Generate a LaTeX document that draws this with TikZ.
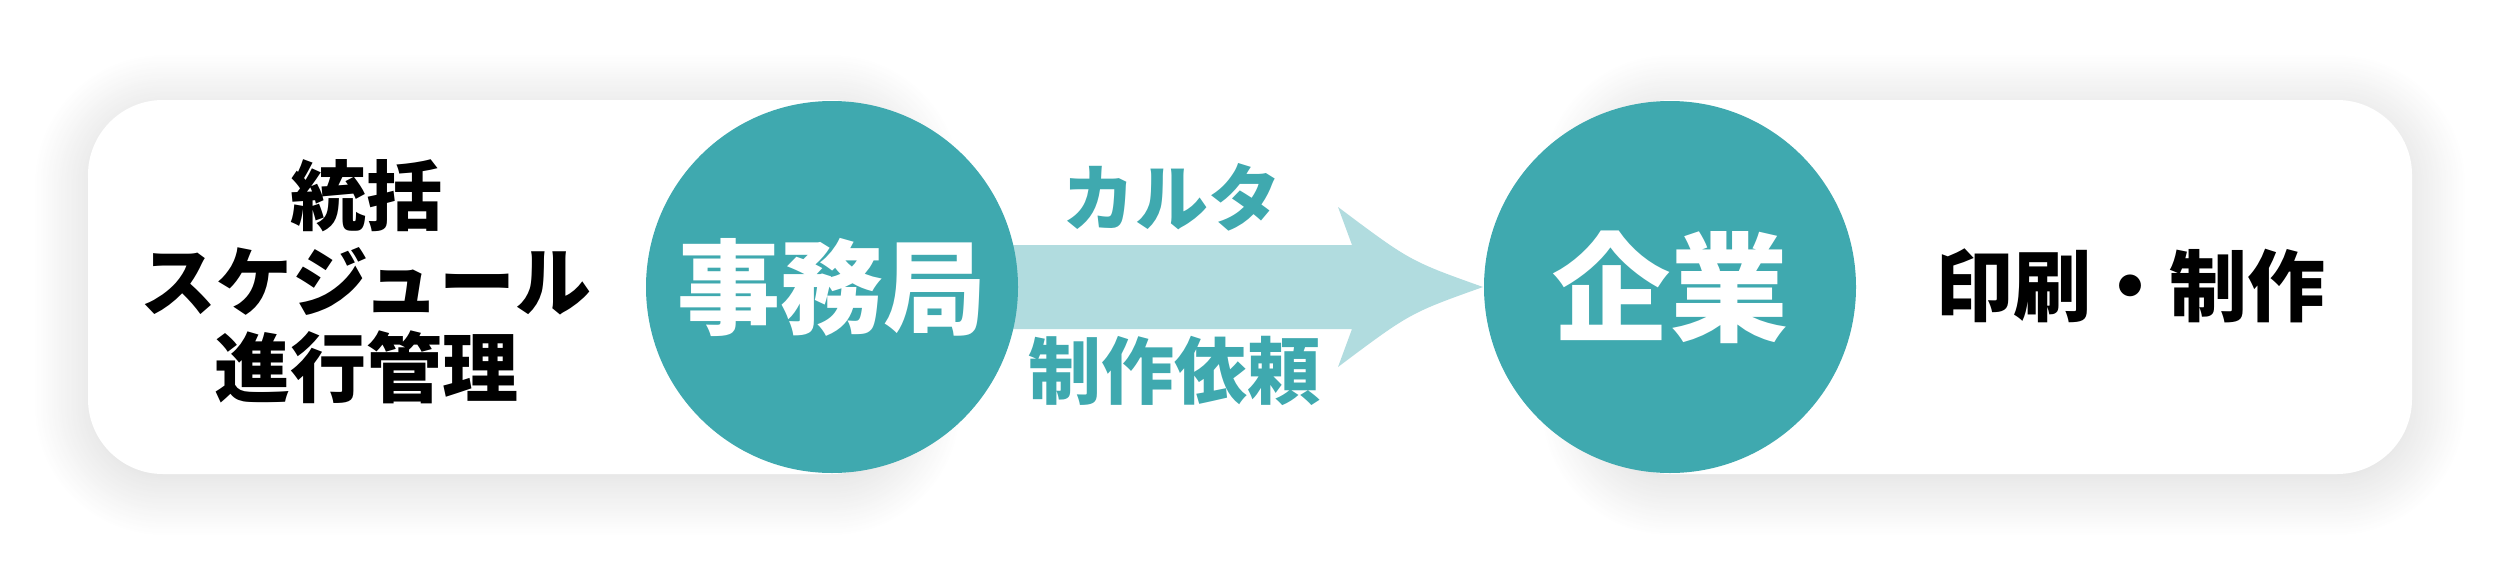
\documentclass[tikz,border=0pt]{standalone}
\usepackage{fontspec}
\newfontfamily\jpfont{Noto Sans CJK JP}
\usetikzlibrary{calc,shadows.blur}
\definecolor{hubteal}{HTML}{3FA9AF}
\definecolor{flowteal}{HTML}{B1DCDF}

\begin{document}
\begin{tikzpicture}[x=1pt, y=-1pt, node distance=838pt,
    panel/.style={fill=white, rounded corners=75pt, inner sep=0pt, minimum height=374pt,
      blur shadow={shadow xshift=0pt, shadow yshift=-8pt, shadow blur radius=55pt,
        shadow blur steps=30, shadow opacity=16}},
    hub/.style={circle, fill=hubteal, text=white, inner sep=0pt, minimum size=372pt},
    flow/.style={fill=flowteal},
    tag/.style={text=hubteal, font=\jpfont\bfseries\fontsize{73pt}{73pt}\selectfont}]
    \useasboundingbox (0,0) rectangle (2516,581);
    % white panels behind the two circles
    \node (lpanel) [panel, minimum width=819pt] at (497.5,287) {};
    \node (rpanel) [panel, minimum width=817pt] at (2003.5,287) {};
    % arrow from office to firm
    \coordinate (tip) at (1483,287);
    \fill[flow] (832,245) -- (1352,245) -- (1338,207) .. controls (1410,261) .. (tip)
      .. controls (1410,313) .. (1338,367) -- (1352,329) -- (832,329) -- cycle;
    \node (office) [hub, font=\jpfont\bfseries\fontsize{103pt}{103pt}\selectfont] at (832,287) {事務局};
    \node (firm) [hub, right of=office, font=\jpfont\bfseries\fontsize{118pt}{118pt}\selectfont] {企業};
    \node (tasks) [align=center, font=\jpfont\bfseries\fontsize{76pt}{86pt}\selectfont] at (366,282)
      {統括\\スケジュール\\進行管理};
    \node (work) [font=\jpfont\bfseries\fontsize{78pt}{78pt}\selectfont] at (2130,286) {印刷・制作};
    \node (karte) [tag] at (1172,197) {カルタ};
    \node (order) [tag] at (1174,371) {制作依頼};
\end{tikzpicture}
\end{document}
